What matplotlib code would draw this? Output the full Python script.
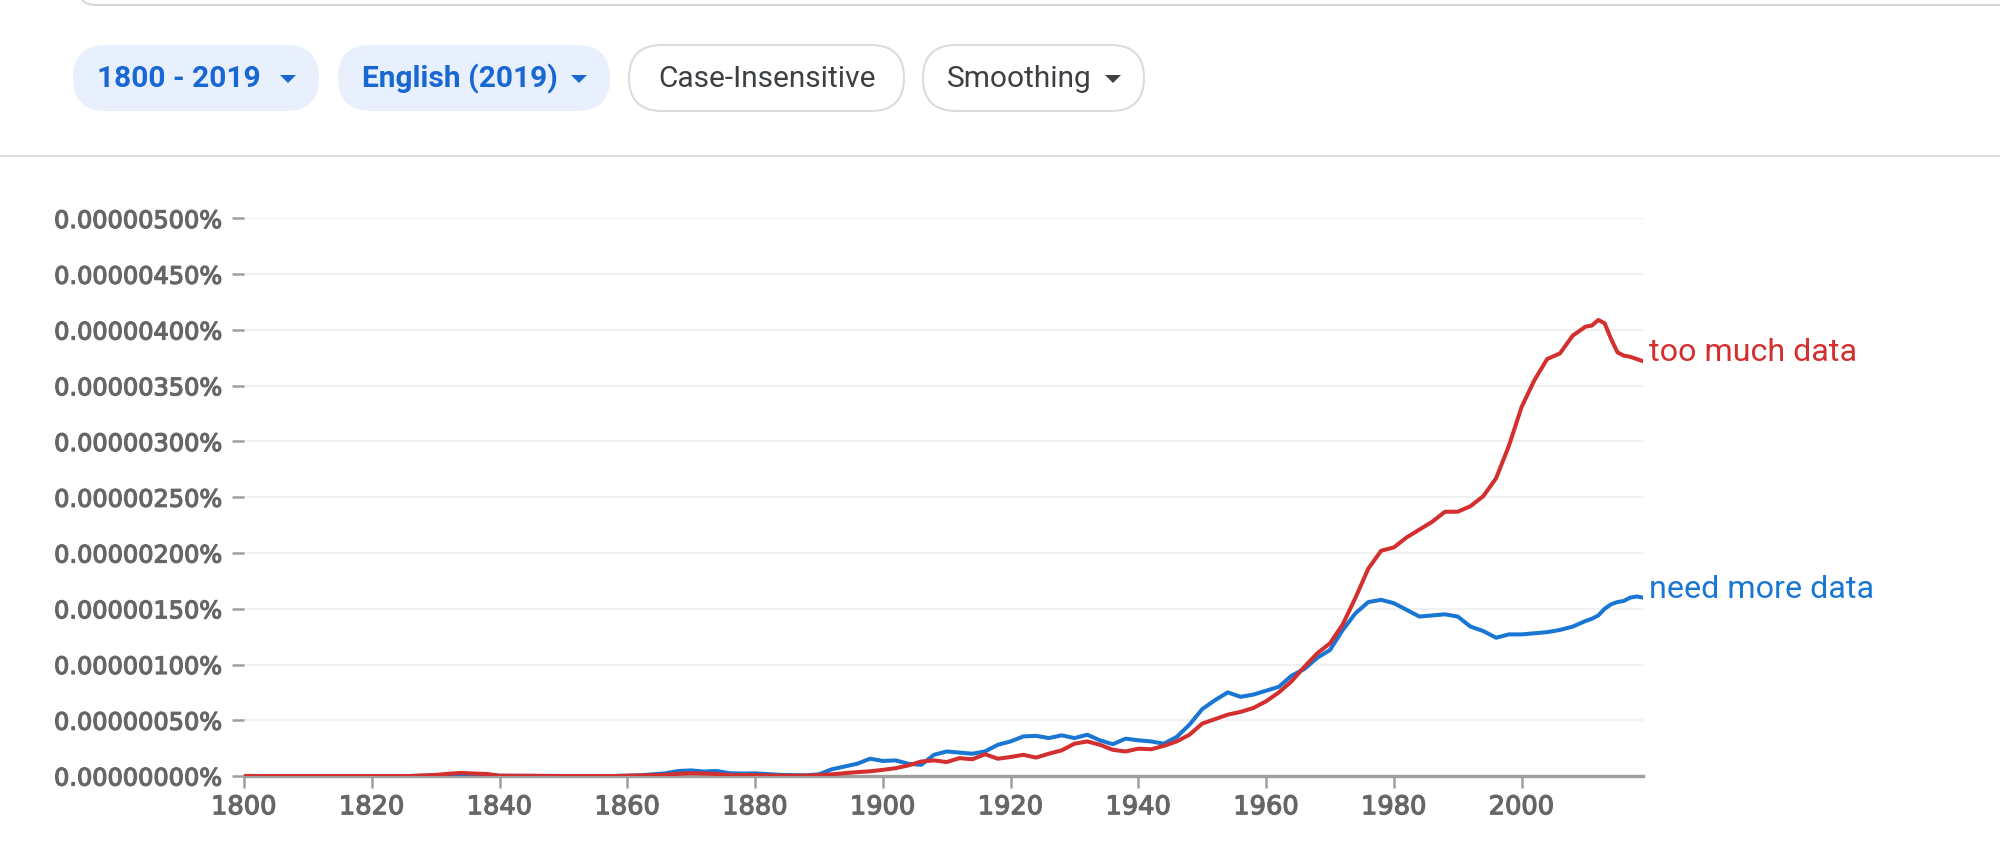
import numpy as np
import matplotlib
matplotlib.use("Agg")
import matplotlib.pyplot as plt
import matplotlib.patheffects as pe
from matplotlib.patches import FancyBboxPatch, Polygon
from matplotlib.ticker import FuncFormatter, MultipleLocator

# values are percent * 1e8  (500 -> 0.00000500%)
years = [1800, 1810, 1820, 1826, 1830, 1832, 1834, 1836, 1838, 1840, 1850, 1858,
         1862, 1866, 1868, 1870, 1872, 1874, 1876, 1878, 1880, 1884, 1888, 1890,
         1892, 1894, 1896, 1898, 1900, 1902, 1904, 1906, 1908, 1910, 1912, 1914,
         1916, 1918, 1920, 1922, 1924, 1926, 1928, 1930, 1932, 1934, 1936, 1938,
         1940, 1942, 1944, 1946, 1948, 1950, 1952, 1954, 1956, 1958, 1960, 1962,
         1964, 1966, 1968, 1970, 1972, 1974, 1976, 1978, 1980, 1982, 1984, 1986,
         1988, 1990, 1992, 1994, 1996, 1998, 2000, 2002, 2004, 2006, 2008, 2010,
         2011, 2012, 2013, 2014, 2015, 2016, 2017, 2018, 2019]

too_much = [0, 0, 0, 0, 1, 2, 2.8, 2.2, 1.8, 0.3, 0, 0,
            0.5, 1, 2, 2.5, 2.2, 1.8, 0.8, 0.8, 0.8, 0.3, 0.3, 0.8,
            1.5, 2.5, 3.5, 4.2, 5.5, 7, 9.5, 13, 14, 12.5, 16, 15,
            19.5, 15.5, 17, 19, 16.5, 20, 23, 29, 31, 28, 23.5, 22,
            24.5, 24, 27, 31, 37, 47, 51, 55, 57.5, 61, 67, 75,
            85, 98, 110, 119, 136, 160, 186, 202, 205, 214, 221, 228,
            237, 237, 242, 251, 267, 296, 331, 355, 374, 379, 395, 403,
            404, 409, 406, 392, 380, 377, 376, 374, 372]

need_more = [0, 0, 0, 0, 0.5, 1.2, 1.8, 1.5, 1.2, 0.2, 0, 0,
             0.6, 2.4, 4.5, 5, 4, 4.5, 2.5, 2.2, 2.4, 1, 0.6, 1.5,
             6, 8.5, 11, 15.5, 13.5, 14, 11, 10, 19, 22, 21, 20,
             22, 28, 31, 35.5, 36, 34, 36.5, 34, 37, 32, 28.5, 33.5,
             32, 31, 29, 35, 46, 60, 68, 75, 71, 73, 76.5, 80,
             90, 96, 106, 113, 131, 146, 156, 158, 155, 149, 143, 144,
             145, 143, 134, 130, 124, 127, 127, 128, 129, 131, 134, 139,
             141, 144, 150, 154, 156, 157, 160, 161, 160]

series_names = ["need more data", "too much data"]
series_colors = ["#1976d2", "#d32f2f"]

pills = ["1800 - 2019", "English (2019)", "Case-Insensitive", "Smoothing"]

W, H = 2000, 842
fig = plt.figure(figsize=(W / 100, H / 100), dpi=100)

# --- page chrome (pixel coordinates) ---
ui = fig.add_axes([0, 0, 1, 1])
ui.set_xlim(0, W); ui.set_ylim(H, 0); ui.axis("off")

ui.add_patch(FancyBboxPatch((78, -60), 2100, 65, boxstyle="round,pad=0,rounding_size=18",
                            fc="white", ec="#d6d6d6", lw=1.5))
ui.plot([0, W], [156, 156], color="#dadce0", lw=1.5)

pill_x = [(73, 319), (338, 610), (629, 904), (923, 1144)]
pill_fill = ["#e8f0fe", "#e8f0fe", "white", "white"]
pill_edge = ["none", "none", "#dadce0", "#dadce0"]
pill_txt = ["#1967d2", "#1967d2", "#3c4043", "#3c4043"]
pill_w = ["bold", "bold", "normal", "normal"]
caret = [True, True, False, True]
for (x0, x1), label, fc, ec, tc, fw, cr in zip(pill_x, pills, pill_fill, pill_edge, pill_txt, pill_w, caret):
    ui.add_patch(FancyBboxPatch((x0, 45), x1 - x0, 66, boxstyle="round,pad=0,rounding_size=33",
                                fc=fc, ec=ec, lw=1.5))
    if cr:
        ui.text(x0 + 24, 79, label, ha="left", va="center", color=tc, fontsize=21.5,
                family="Roboto", weight=fw)
        cx = x1 - 31
        ui.add_patch(Polygon([[cx - 8, 75], [cx + 8, 75], [cx, 83]], closed=True, fc=tc, ec="none"))
    else:
        ui.text((x0 + x1) / 2, 79, label, ha="center", va="center", color=tc, fontsize=21.5,
                family="Roboto", weight=fw)

# --- chart ---
ax = fig.add_axes([244 / W, 1 - 776 / H, (1643 - 244) / W, (776 - 218.5) / H])
ax.patch.set_alpha(0)
for name, vals, col in zip(series_names, [need_more, too_much], series_colors):
    ax.plot(years, vals, color=col, lw=2.9, solid_joinstyle="round", solid_capstyle="round", zorder=3)
    ax.annotate(name, xy=(years[-1], vals[-1]), xytext=(4.5, 6), textcoords="offset points",
                ha="left", va="center", color=col, fontsize=23.2, family="Roboto",
                annotation_clip=False)

ax.set_xlim(1800, 2019)
ax.set_ylim(0, 500)
ax.yaxis.set_major_locator(MultipleLocator(50))
ax.xaxis.set_major_locator(MultipleLocator(20))
ax.yaxis.set_major_formatter(FuncFormatter(lambda v, p: f"{v / 1e8:.8f}%"))
ax.grid(axis="y", color="#f1f1f1", lw=1.6, zorder=0)
for s in ["top", "right", "left"]:
    ax.spines[s].set_visible(False)
ax.spines["bottom"].set_color("#9e9e9e")
ax.spines["bottom"].set_linewidth(2.4)
ax.spines["bottom"].set_zorder(2)
ax.tick_params(axis="y", length=8.6, width=1.8, color="#9e9e9e", pad=6.5,
               labelsize=17.3, labelcolor="#666666")
ax.tick_params(axis="x", length=8.6, width=1.8, color="#9e9e9e", pad=4.5,
               labelsize=18.5, labelcolor="#666666")
# medium-weight look for tick labels
for lab in ax.get_xticklabels() + ax.get_yticklabels():
    lab.set_family("DejaVu Sans")
    lab.set_path_effects([pe.withStroke(linewidth=0.9, foreground="#666666")])

fig.savefig("out.png", dpi=100, facecolor="white")
